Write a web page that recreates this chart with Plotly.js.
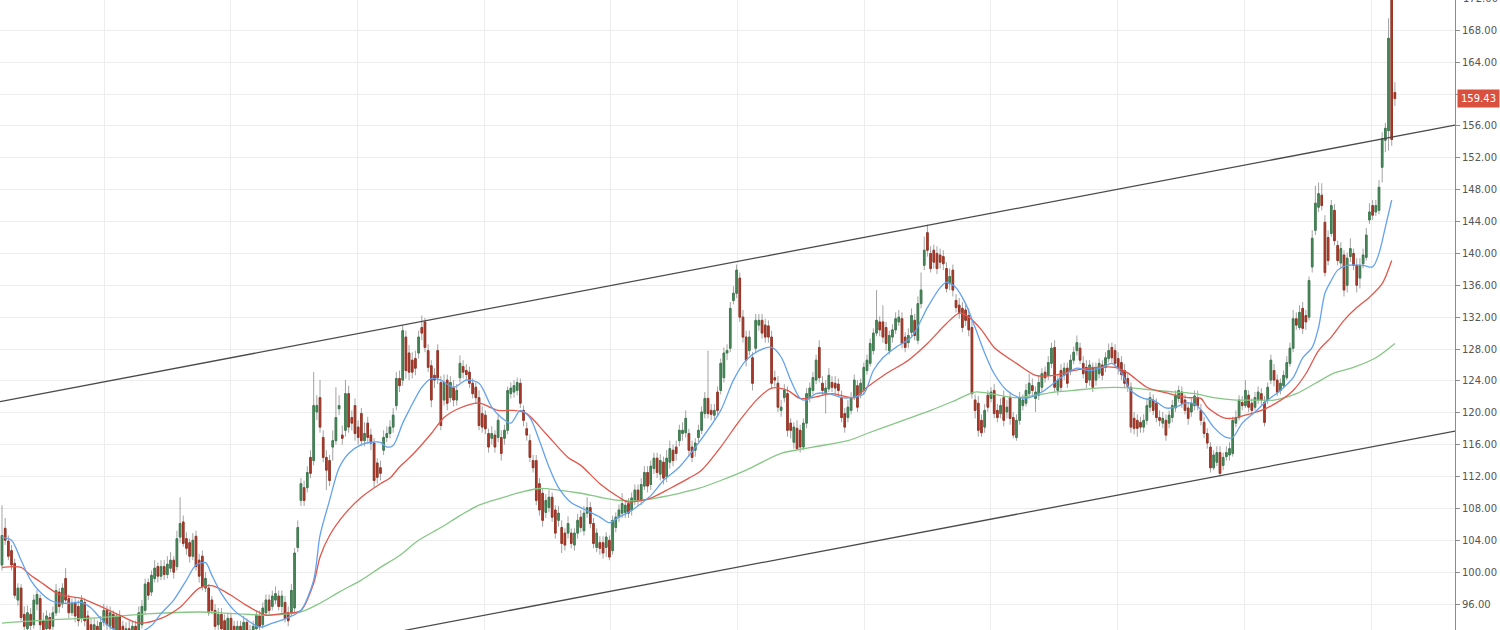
<!DOCTYPE html>
<html><head><meta charset="utf-8">
<script src="https://cdn.plot.ly/plotly-3.0.1.min.js"></script>
<style>html,body{margin:0;padding:0;background:#fff}#chart{width:1500px;height:630px}</style>
</head><body><div id="chart"></div>
<script>
// ---- candle data ----
const open = [
100.9,105.5,103.9,102.7,101.1,96.5,98.0,94.7,92.9,94.7,
93.4,96.0,96.7,93.9,92.9,94.3,93.2,94.9,97.5,96.0,
99.2,96.7,94.9,96.2,95.7,94.2,96.2,94.5,93.4,92.2,
93.2,91.9,93.7,95.2,93.2,94.7,92.7,94.5,93.2,91.4,
92.9,91.9,93.2,92.7,93.4,95.2,98.7,97.5,99.2,100.7,
99.5,100.7,99.7,100.5,101.5,100.7,104.4,106.3,104.2,103.7,
102.0,104.5,101.5,102.0,98.0,98.0,96.5,95.2,93.4,94.7,
93.9,92.4,94.2,93.2,91.7,93.2,92.2,93.7,92.7,91.7,
92.9,94.5,93.4,94.9,96.5,95.7,96.5,97.0,95.7,96.2,
94.9,94.9,95.5,103.1,109.0,110.6,110.6,114.4,114.0,120.1,
121.9,116.9,114.4,114.0,115.7,116.5,120.5,117.2,117.8,122.4,
119.4,120.9,118.2,119.9,116.5,118.7,117.2,116.2,113.7,113.1,
115.3,116.9,117.4,118.2,120.9,124.3,124.1,129.5,127.5,126.6,
126.8,127.5,130.7,131.4,127.8,125.9,124.7,127.8,123.8,121.6,
124.1,121.9,123.2,121.6,124.4,125.8,125.3,125.1,123.7,123.2,
121.9,119.9,119.7,117.4,116.8,117.2,116.9,116.9,116.8,117.8,
122.4,122.6,122.8,123.7,120.3,118.0,116.5,114.0,114.0,111.1,
109.9,107.5,108.1,109.4,107.8,106.5,105.6,104.9,104.9,104.9,
103.4,104.9,106.9,105.2,107.4,108.1,106.1,103.1,103.7,103.7,
103.1,104.0,102.7,105.6,106.9,107.4,107.5,108.6,107.8,109.0,
110.3,109.0,110.8,112.5,111.0,113.0,114.3,112.3,113.8,112.0,
113.8,115.3,115.7,116.5,117.4,117.5,117.4,115.7,115.3,116.9,
117.8,119.9,121.8,120.3,119.7,122.6,122.8,124.4,127.5,128.1,
134.1,135.0,136.9,132.0,129.5,127.8,126.9,128.1,131.0,131.6,
131.0,130.9,129.5,124.4,123.7,120.3,121.9,122.4,118.7,116.3,
118.05,117.8,115.7,118.7,121.9,122.8,124.1,128.2,123.7,122.4,
123.0,123.8,123.7,123.6,121.9,119.9,119.4,120.3,121.9,123.4,
122.4,122.8,125.3,126.2,127.8,130.0,131.4,131.4,130.7,127.8,
129.5,130.4,131.4,131.8,129.5,128.8,130.1,131.6,129.1,133.7,
138.5,142.6,140.0,140.4,140.0,139.8,139.6,138.1,136.2,137.9,
134.1,133.5,133.1,132.9,132.2,130.7,121.6,121.2,119.05,118.2,
122.2,121.8,122.8,120.3,119.9,121.9,120.1,121.9,119.4,116.9,
119.05,120.9,121.2,122.4,123.4,121.8,122.2,123.2,125.1,124.7,
126.2,128.2,122.8,125.3,124.7,125.6,125.3,126.6,127.8,128.1,
126.2,125.7,124.1,125.7,124.1,124.9,126.0,125.7,126.8,128.2,
127.8,126.8,126.3,125.3,124.3,123.2,119.3,119.05,118.8,118.2,
119.05,120.7,121.6,121.2,119.4,118.7,119.05,118.7,119.4,120.6,
121.8,122.6,121.6,120.6,120.1,120.9,121.9,120.3,118.8,117.4,
115.7,113.1,113.8,115.0,113.4,114.5,114.7,114.9,118.7,119.4,
121.3,120.9,122.2,121.2,120.7,121.6,122.4,121.3,121.6,124.1,
125.3,124.1,122.8,123.4,124.4,126.2,128.1,131.8,130.7,133.1,
132.2,132.0,138.3,142.9,145.8,147.3,143.9,142.0,142.5,145.4,
141.0,138.8,139.8,136.0,139.6,140.0,138.5,136.9,138.7,139.5,
144.2,146.0,145.2,145.4,150.8,154.2,155.4,172.4,160.2];
const high = [
108.4,106.8,104.6,103.4,101.7,98.6,98.5,95.7,95.8,95.5,
97.2,97.8,97.2,94.9,95.2,94.9,95.7,98.5,98.0,98.6,
100.5,97.2,96.7,96.8,96.5,97.1,96.7,95.2,94.2,94.2,
93.9,94.5,96.0,95.8,95.7,95.2,94.9,95.2,93.9,93.7,
93.9,93.9,93.9,95.7,96.5,99.2,99.2,100.2,101.5,101.2,
101.5,101.5,102.0,102.5,102.0,105.2,109.4,107.1,105.0,104.2,
104.9,105.2,102.3,102.7,100.0,98.5,97.0,96.0,95.5,95.5,
94.7,94.9,94.9,93.9,93.9,93.9,94.5,94.2,93.4,93.9,
95.2,95.2,96.2,97.2,97.2,97.7,98.2,97.7,97.7,97.0,
95.7,98.5,103.0,106.5,111.8,111.5,113.3,115.3,125.1,122.2,
124.1,117.8,115.3,114.7,117.8,123.2,122.2,118.4,124.1,123.4,
120.3,121.8,119.05,120.6,118.8,119.5,118.0,116.8,114.3,114.0,
117.8,118.3,119.05,120.6,125.1,125.3,131.0,130.3,128.5,127.6,
127.8,130.3,132.2,131.9,128.6,126.6,125.6,128.6,124.6,124.8,
124.8,124.6,124.1,123.6,127.2,126.6,126.1,125.8,124.3,123.8,
122.8,120.8,120.3,118.0,118.3,117.8,119.8,117.8,118.5,123.3,
123.8,124.1,124.4,124.3,120.9,118.8,117.3,114.7,114.7,111.8,
110.5,109.8,110.3,110.0,108.4,108.3,106.5,105.5,107.0,105.5,
105.5,107.3,107.8,108.3,109.4,108.8,106.8,105.5,104.5,104.5,
105.0,104.6,107.1,107.5,108.5,109.9,109.0,109.3,110.0,111.0,
111.0,111.8,113.3,113.3,114.0,115.0,115.0,114.8,114.5,115.3,
116.5,116.0,116.5,118.5,118.8,120.3,118.0,116.5,116.8,118.5,
120.8,122.6,127.8,121.1,121.1,123.3,126.8,128.2,128.6,133.9,
135.9,138.6,137.6,132.9,130.3,130.3,127.6,132.4,132.4,132.4,
131.8,131.6,130.3,125.3,124.6,121.6,123.6,123.3,119.3,118.8,
119.05,118.5,119.3,123.1,123.8,125.1,127.3,129.1,124.6,124.1,
125.6,124.6,124.6,124.3,122.8,120.6,121.6,122.6,124.8,124.1,
124.3,126.3,127.3,129.3,130.6,135.4,132.1,133.5,131.4,130.3,
131.1,132.6,132.9,132.6,130.1,130.6,133.1,132.4,134.6,137.6,
142.1,143.6,140.9,141.1,140.9,140.6,140.4,138.9,138.1,138.6,
134.9,134.4,133.9,133.6,133.1,131.6,122.3,122.1,119.8,121.1,
122.8,123.2,123.6,121.1,121.8,122.8,121.6,122.6,120.1,119.8,
122.6,122.3,123.6,124.9,124.3,123.3,124.6,125.6,125.8,127.1,
128.8,129.1,124.8,126.1,126.3,126.3,127.3,128.3,129.7,128.8,
127.1,126.6,126.6,126.3,126.3,126.8,126.6,127.6,128.7,128.8,
128.6,127.6,127.1,126.1,125.1,123.8,120.1,119.8,119.5,119.8,
121.8,122.6,122.3,121.8,120.3,120.1,119.8,120.3,121.6,122.8,
123.4,123.3,122.3,121.3,121.8,122.8,122.8,121.1,119.5,118.05,
116.3,115.3,115.8,115.8,115.0,115.8,116.3,119.5,120.3,122.2,
122.1,124.1,122.8,121.8,122.6,123.3,123.1,122.1,123.8,127.3,
126.1,124.8,124.3,125.3,127.1,128.8,132.9,132.6,133.5,133.9,
132.9,137.1,142.9,148.5,148.9,148.8,144.8,142.9,146.7,146.2,
141.6,141.4,140.4,140.1,141.9,140.6,139.4,139.4,140.6,143.2,
146.3,146.7,146.7,149.2,155.2,156.4,169.5,173.5,161.5];
const low = [
100.2,103.4,101.5,100.2,96.7,95.8,93.9,92.4,92.1,92.2,
92.9,95.2,92.4,91.4,92.2,91.9,92.4,94.5,94.9,95.5,
96.0,94.2,94.5,93.7,93.2,93.7,93.2,91.9,91.4,91.4,
91.2,91.4,93.2,92.7,92.7,92.2,91.9,91.7,91.0,91.0,
91.2,91.4,91.4,92.2,92.9,94.7,96.5,97.0,98.7,98.7,
99.0,99.0,99.2,100.0,99.2,100.2,103.7,103.2,102.2,101.2,
101.5,100.2,98.7,97.7,97.5,94.5,94.7,92.4,92.7,92.2,
91.9,91.9,91.9,91.2,91.2,91.4,91.7,91.7,91.0,91.2,
92.4,92.4,92.9,94.5,94.7,95.2,96.0,95.2,94.9,93.7,
93.2,94.5,94.9,102.5,108.3,108.3,110.0,111.8,113.4,119.1,
117.5,113.8,110.3,110.8,114.0,116.0,119.7,116.0,117.0,117.5,
117.8,116.5,116.0,115.8,115.8,116.3,115.3,110.6,111.1,111.5,
114.7,116.3,116.8,117.5,120.3,122.6,123.4,124.3,124.1,124.3,
124.7,126.8,129.1,127.6,125.1,120.7,123.1,123.6,117.8,120.9,
120.3,121.3,120.8,120.9,123.8,124.3,124.1,123.1,121.8,121.1,
117.8,117.5,117.3,115.0,116.0,115.0,116.3,114.0,116.0,117.3,
121.8,121.9,122.2,120.6,118.3,116.5,113.8,112.5,108.4,107.1,
105.7,106.8,107.5,106.3,104.2,105.7,102.4,102.7,104.2,103.0,
102.7,104.2,105.0,104.6,106.8,105.5,103.0,102.5,102.2,101.7,
101.9,101.5,102.2,105.0,106.3,106.8,106.8,106.8,107.1,108.4,
108.3,108.4,110.3,110.0,110.3,112.3,111.8,111.5,111.0,111.3,
113.0,113.3,114.0,115.8,116.5,116.9,114.5,113.8,114.5,116.3,
117.3,119.3,119.3,119.05,119.05,119.5,122.3,123.8,126.6,127.6,
133.6,134.4,131.4,128.8,125.8,127.2,122.8,127.6,130.3,129.3,
128.8,128.8,123.1,123.3,120.1,119.5,121.3,117.0,116.8,115.5,
115.3,115.0,115.3,118.05,121.3,122.3,123.6,123.8,122.1,119.9,
122.6,122.6,122.3,122.1,118.8,117.5,118.8,119.8,121.6,120.1,
121.8,122.3,124.8,125.8,127.3,129.6,129.6,128.8,127.8,127.3,
128.8,129.9,130.9,128.1,127.6,128.1,129.6,129.1,128.6,133.1,
137.9,139.6,137.6,138.1,137.4,138.1,137.9,135.1,135.4,134.6,
132.6,131.8,130.1,130.9,129.6,121.8,119.3,117.0,117.0,117.5,
120.1,121.3,119.3,118.8,119.3,118.3,119.3,118.5,116.8,116.5,
118.5,120.3,120.8,121.8,122.2,120.1,121.6,122.6,123.8,124.1,
125.6,122.6,122.2,122.6,124.1,123.1,124.7,126.1,127.2,126.1,
124.3,123.1,123.4,122.6,123.4,124.3,124.1,125.1,126.3,126.3,
125.6,124.8,124.1,123.1,122.6,117.5,117.3,117.0,117.5,117.5,
118.5,120.1,119.7,118.8,118.3,118.05,116.5,118.05,118.8,120.1,
121.3,120.6,119.8,118.5,119.5,120.3,120.3,118.4,116.8,115.5,
112.5,112.8,113.3,112.0,112.8,114.0,114.0,114.5,118.2,119.05,
120.3,120.6,120.1,119.8,120.3,121.1,120.9,118.3,121.1,123.6,
123.3,122.1,122.3,123.1,124.1,125.8,127.6,130.4,130.4,129.9,
130.4,131.6,137.6,142.3,145.2,145.4,137.1,138.5,142.1,141.0,
138.5,138.1,134.6,135.1,138.9,137.9,135.1,135.6,138.1,139.1,
143.7,144.2,144.7,144.9,148.9,152.7,152.9,153.5,158.5];
const close = [
104.6,104.0,102.0,100.9,97.1,98.0,94.3,93.2,94.9,93.3,
96.5,97.2,93.4,92.4,94.5,92.9,94.9,97.7,95.7,98.0,
96.5,94.9,96.1,94.5,93.9,96.5,93.9,92.7,92.2,93.4,
91.9,93.7,95.2,93.4,94.9,92.9,94.5,92.7,91.7,92.9,
91.9,93.2,92.2,94.9,95.7,98.5,97.1,99.6,100.5,99.5,
100.7,99.7,101.0,101.5,100.0,104.2,106.1,103.6,103.0,102.0,
104.0,100.7,99.5,98.2,99.2,94.9,95.2,93.2,94.7,92.9,
92.7,94.2,92.7,91.9,93.2,92.2,93.7,92.4,91.7,93.2,
94.6,93.2,95.5,96.5,95.2,97.0,97.3,95.7,97.0,94.2,
93.9,97.7,102.4,105.6,111.1,109.0,112.5,112.4,120.9,120.9,
118.2,114.4,112.8,111.5,116.5,119.4,120.9,116.8,122.4,118.2,
118.7,117.4,116.9,116.5,117.4,116.9,116.2,111.5,111.9,112.4,
116.9,117.4,118.2,119.7,124.3,123.4,130.3,125.3,125.1,125.1,
125.6,129.5,130.0,128.2,125.7,121.6,124.1,124.4,118.4,123.8,
121.2,123.8,121.6,122.8,126.2,125.1,124.8,123.7,122.4,121.9,
118.4,118.2,118.0,115.7,117.4,115.7,119.05,114.9,117.8,122.8,
123.1,123.4,123.8,121.2,119.05,117.2,114.4,113.1,109.0,107.8,
106.5,109.0,109.4,106.9,104.9,107.4,103.6,103.4,106.1,103.6,
104.9,106.5,105.6,107.4,108.1,106.1,103.6,104.9,103.0,102.4,
104.4,101.9,106.5,106.9,107.8,108.6,108.4,107.4,109.3,110.3,
109.0,111.0,112.5,110.8,113.3,114.3,112.5,114.0,111.8,114.3,
115.5,114.0,114.9,117.8,117.8,119.3,115.3,114.4,116.2,117.8,
120.1,121.8,119.9,119.8,120.3,120.3,126.2,127.5,127.8,133.1,
135.0,137.9,132.0,129.5,126.6,129.5,123.7,131.6,131.6,130.0,
129.5,129.5,123.7,124.1,120.7,120.7,122.8,117.8,117.8,118.2,
115.5,115.7,118.7,122.4,123.1,124.4,126.6,124.4,122.8,123.1,
124.7,123.2,123.1,122.8,119.4,118.2,120.7,121.9,124.1,120.7,
123.7,125.7,126.6,128.7,130.0,131.6,130.4,129.5,128.7,129.7,
130.4,131.8,132.0,128.7,128.2,129.7,132.2,129.7,133.7,135.4,
140.4,140.4,138.1,138.9,138.1,138.9,138.7,135.6,137.1,135.4,
133.2,132.6,130.7,131.6,130.4,122.4,120.3,117.8,117.5,120.3,
120.7,122.6,119.9,119.4,120.9,119.05,120.7,119.3,117.2,119.05,
121.9,121.6,122.8,123.7,122.8,122.6,123.8,124.9,124.4,126.3,
128.1,123.2,124.1,123.2,125.6,123.7,126.6,127.6,128.8,126.6,
124.9,123.8,126.0,123.2,125.6,126.2,124.7,126.9,127.8,126.9,
126.2,125.6,124.8,123.7,123.3,118.2,118.05,118.05,118.2,119.05,
120.9,121.9,120.3,119.4,119.05,119.3,117.2,119.7,120.9,122.2,
122.8,121.2,120.3,119.3,121.2,122.1,120.9,119.05,117.4,116.2,
113.1,114.7,115.0,112.4,114.4,115.0,115.5,119.05,119.4,121.6,
120.9,122.8,120.7,120.3,121.9,122.6,121.6,118.8,123.2,126.6,
124.1,122.6,123.7,124.7,126.3,128.1,131.8,131.0,132.6,130.6,
131.4,136.6,141.9,146.3,147.5,146.0,137.6,139.1,146.0,141.6,
139.1,140.6,135.4,139.4,140.6,138.5,136.0,138.5,139.8,142.3,
145.2,144.8,146.0,148.3,154.4,155.7,167.0,154.3,159.43];

// ---- moving averages, read at sample bars ----
const blueIdx = [0,3,6,9,12,15,18,21,25,28,31,34,39,43,47,50,54,58,61,64,66,69,73,77,81,85,90,94,98,100,
103,106,109,113,116,119,121,123,126,128,132,135,138,142,146,150,154,157,160,163,166,169,172,175,179,182,185,188,191,194,
197,204,208,213,219,226,230,234,238,242,245,248,251,253,256,260,264,267,271,274,277,281,286,291,295,297,300,303,306,309,
312,316,320,323,327,331,335,338,342,346,349,352,355,359,362,366,369,372,375,378,381,385,387,390,394,398,402,406,409,412,
414,416,418,420,423,428,431,433,435,437];
const blueVal = [104.4,104.0,101.5,99.0,97.5,96.5,96.1,96.1,96.2,95.5,94.2,93.1,92.2,92.4,93.3,94.8,96.5,99.0,100.9,101.2,
99.6,97.3,95.2,94.0,93.1,93.6,94.3,95.2,99.0,104.6,109.0,113.1,114.9,116.0,116.3,116.3,115.7,115.9,118.7,120.3,
123.2,124.3,124.1,123.2,124.1,123.7,120.7,119.4,118.7,120.3,119.4,116.5,113.2,110.6,108.7,108.1,107.5,106.9,106.2,106.9,
107.5,109.6,111.5,113.2,116.2,120.3,124.1,126.6,127.8,128.2,127.0,124.1,121.8,121.6,122.4,122.4,121.9,121.9,122.4,125.3,
126.9,128.2,129.5,133.2,135.7,136.4,135.7,133.7,130.7,127.5,124.9,122.8,121.9,121.9,122.6,123.8,125.0,125.6,125.3,125.7,
126.2,125.0,122.8,121.8,121.6,120.6,120.7,121.2,121.1,119.9,118.2,116.9,116.9,118.7,120.1,121.6,122.8,124.4,126.9,128.2,
130.7,135.0,136.6,137.9,138.5,138.5,138.3,140.0,143.3,146.7];
const redIdx = [0,6,9,12,18,25,31,37,43,50,56,62,66,72,77,83,88,94,98,100,103,108,113,119,122,125,129,135,139,144,
150,156,161,165,171,178,182,188,194,197,204,210,216,220,226,232,238,242,247,251,255,261,268,272,278,285,291,297,301,304,
308,312,319,325,331,337,344,350,354,360,367,373,377,379,384,387,391,396,401,406,410,414,418,422,426,430,434,437];
const redVal = [100.6,100.6,99.6,98.8,97.2,96.7,95.7,94.6,93.6,94.2,95.6,98.0,98.3,97.1,95.8,94.6,94.8,95.2,98.6,101.9,
104.6,107.4,109.4,111.1,111.8,113.2,114.7,117.4,119.4,120.6,121.2,120.3,120.3,119.9,117.4,114.4,113.4,111.1,109.4,108.8,
109.3,110.5,111.8,112.8,115.7,119.05,121.9,123.1,122.8,121.8,121.9,122.4,121.9,123.2,124.9,126.6,128.7,131.2,132.5,132.0,
130.4,128.2,126.2,124.7,124.7,125.3,125.7,125.7,125.0,123.2,122.4,121.9,121.8,120.7,119.4,119.3,119.7,120.3,121.3,122.8,
124.9,127.8,129.5,131.6,133.2,134.5,136.2,139.1];
const greenIdx = [0,15,31,47,62,73,84,94,100,106,113,119,125,131,138,144,150,157,163,169,175,182,188,194,201,207,213,219,226,234,
245,255,266,272,281,292,300,306,312,319,325,331,337,344,350,356,363,369,375,381,388,394,400,407,413,419,425,432,438];
const greenVal = [93.6,94.0,94.3,94.8,95.0,94.8,94.6,95.0,96.1,97.5,99.0,100.6,102.1,104.0,105.6,107.1,108.4,109.3,110.0,110.5,
110.3,109.9,109.4,109.0,109.0,109.4,109.9,110.5,111.5,112.8,114.9,115.7,116.5,117.4,118.7,120.3,121.6,122.6,122.3,121.9,
122.2,122.6,122.8,123.1,123.2,123.1,122.8,122.6,122.4,121.9,121.6,121.6,121.6,122.4,123.7,125.0,125.7,126.9,128.7];

// ---- channel (trend) lines ----
const upperX = [-0.63, 456.9], upperY = [121.4, 156.1];
const lowerX = [126.7, 456.9], lowerY = [92.7, 117.7];

// ---- price axis ----
const yTicks = [96,100,104,108,112,116,120,124,128,132,136,140,144,148,152,156,160,164,168];
const hiddenTick = 160;          // covered by the last-price tag in the reference
const topTick = 172;             // only partly visible at the top edge
const lastPrice = 159.43;
const yRange = [92.74, 171.8];

const idx = open.map((_, i) => i);
const bodyHigh = open.map((o, i) => Math.max(o, close[i]));
const bodyLow = open.map((o, i) => Math.min(o, close[i]));

const wickCol = 'rgba(128,128,128,0.72)';
const traces = [
  {type:'candlestick', x:idx, open:open, high:high, low:low, close:close,
   increasing:{line:{color:wickCol,width:1}, fillcolor:wickCol},
   decreasing:{line:{color:wickCol,width:1}, fillcolor:wickCol},
   whiskerwidth:0, hoverinfo:'skip', showlegend:false},
  {type:'candlestick', x:idx, open:open, high:bodyHigh, low:bodyLow, close:close,
   increasing:{line:{color:'#3e7d50',width:1}, fillcolor:'#4a8a5c'},
   decreasing:{line:{color:'#9c3526',width:1}, fillcolor:'#a83d2e'},
   whiskerwidth:0, showlegend:false},
  {type:'scatter', mode:'lines', x:greenIdx, y:greenVal, line:{color:'#86c786', width:1.3, shape:'spline', smoothing:0.8}, hoverinfo:'skip', showlegend:false},
  {type:'scatter', mode:'lines', x:redIdx, y:redVal, line:{color:'#e2574c', width:1.3, shape:'spline', smoothing:0.8}, hoverinfo:'skip', showlegend:false},
  {type:'scatter', mode:'lines', x:blueIdx, y:blueVal, line:{color:'#64a2ee', width:1.3, shape:'spline', smoothing:0.8}, hoverinfo:'skip', showlegend:false},
  {type:'scatter', mode:'lines', x:upperX, y:upperY, line:{color:'#4a4a4a', width:1.3}, hoverinfo:'skip', showlegend:false},
  {type:'scatter', mode:'lines', x:lowerX, y:lowerY, line:{color:'#4a4a4a', width:1.3}, hoverinfo:'skip', showlegend:false}
];

const tickFont = {family:'DejaVu Sans, Verdana, sans-serif', size:10, color:'#555555'};
const layout = {
  width:1500, height:630,
  margin:{l:0, r:45, t:0, b:0},
  paper_bgcolor:'#ffffff', plot_bgcolor:'#ffffff',
  showlegend:false,
  xaxis:{range:[-0.63, 456.9], rangeslider:{visible:false}, showticklabels:false, ticks:'',
         showgrid:true, gridcolor:'#ededed', gridwidth:1, tick0:32.1, dtick:39.84,
         zeroline:false, showline:false},
  yaxis:{side:'right', range:yRange, tickmode:'array', tickvals:yTicks,
         ticktext:yTicks.map(v => v === hiddenTick ? '' : v.toFixed(2)),
         showgrid:true, gridcolor:'#ededed', gridwidth:1, zeroline:false,
         showline:true, linecolor:'#8c8c8c', linewidth:1, ticks:'outside', ticklen:4, tickcolor:'#8c8c8c',
         tickfont:tickFont},
  annotations:[
    {xref:'paper', yref:'y', x:1, y:lastPrice, xanchor:'left', yanchor:'middle', xshift:2,
     text:lastPrice.toFixed(2), showarrow:false, bgcolor:'#d9503f', borderpad:3,
     font:{family:'DejaVu Sans, Verdana, sans-serif', size:10, color:'#ffffff'}},
    {xref:'paper', yref:'paper', x:1, y:(topTick - yRange[0]) / (yRange[1] - yRange[0]),
     xanchor:'left', yanchor:'middle', xshift:6, text:topTick.toFixed(2), showarrow:false, font:tickFont}
  ]
};

Plotly.newPlot('chart', traces, layout, {displayModeBar:false, staticPlot:true});
</script></body></html>
